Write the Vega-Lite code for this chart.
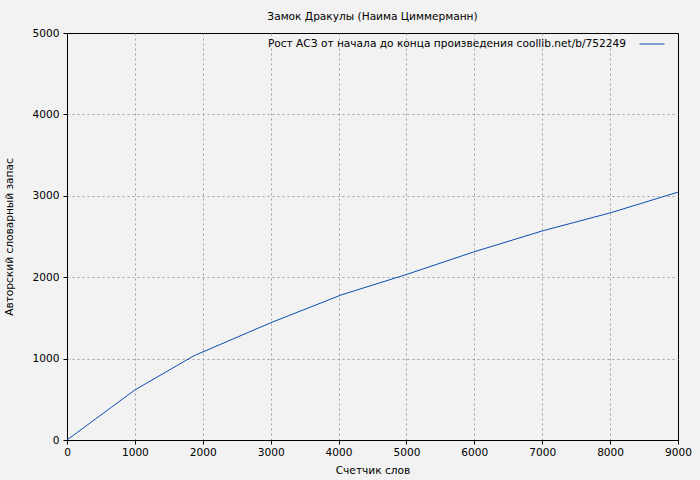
{
  "$schema": "https://vega.github.io/schema/vega-lite/v6.json",
  "width": 611,
  "height": 407,
  "autosize": {"type": "none"},
  "padding": {"left": 67, "top": 33, "right": 22, "bottom": 40},
  "background": "#f2f2f2",
  "title": {
    "text": "Замок Дракулы (Наима Циммерманн)",
    "font": "DejaVu Sans",
    "fontSize": 10.6,
    "fontWeight": "normal",
    "color": "#000000",
    "offset": 5,
    "anchor": "middle"
  },
  "config": {
    "view": {"stroke": "#000000", "strokeWidth": 1, "fill": "#f2f2f2"},
    "font": "DejaVu Sans",
    "axis": {
      "labelFont": "DejaVu Sans",
      "labelFontSize": 10.6,
      "labelColor": "#000000",
      "labelFlush": false,
      "labelOverlap": false,
      "titleFont": "DejaVu Sans",
      "titleFontSize": 10.6,
      "titleFontWeight": "normal",
      "titleColor": "#000000",
      "domainColor": "#000000",
      "tickColor": "#000000",
      "tickSize": 4,
      "gridColor": "#a0a0a0",
      "gridDash": [2, 3],
      "gridWidth": 1
    }
  },
  "data": {
    "values": [
      {"words": 0, "vocab": 0},
      {"words": 1000, "vocab": 615},
      {"words": 1870, "vocab": 1035},
      {"words": 3000, "vocab": 1440},
      {"words": 4050, "vocab": 1785},
      {"words": 5000, "vocab": 2033},
      {"words": 6000, "vocab": 2313},
      {"words": 7000, "vocab": 2568},
      {"words": 8000, "vocab": 2790},
      {"words": 9000, "vocab": 3045}
    ]
  },
  "mark": {"type": "line", "strokeWidth": 1, "clip": true},
  "encoding": {
    "x": {
      "field": "words",
      "type": "quantitative",
      "scale": {"domain": [0, 9000], "nice": false, "zero": false},
      "axis": {
        "values": [0,1000,2000,3000,4000,5000,6000,7000,8000,9000],
        "format": "d",
        "title": "Счетчик слов",
        "titlePadding": 8,
        "labelPadding": 3,
        "gridOpacity": {"condition": {"test": "datum.value === 0 || datum.value === 9000", "value": 0}, "value": 1}
      }
    },
    "y": {
      "field": "vocab",
      "type": "quantitative",
      "scale": {"domain": [0, 5000], "nice": false},
      "axis": {
        "values": [0,1000,2000,3000,4000,5000],
        "format": "d",
        "title": "Авторский словарный запас",
        "titlePadding": 18,
        "labelPadding": 4,
        "gridOpacity": {"condition": {"test": "datum.value === 0 || datum.value === 5000", "value": 0}, "value": 1}
      }
    },
    "color": {
      "datum": "Рост АСЗ от начала до конца произведения coollib.net/b/752249",
      "type": "nominal",
      "scale": {"range": ["#0b4cb4"]},
      "legend": {
        "title": null,
        "orient": "none",
        "legendX": 572,
        "legendY": -2,
        "symbolType": "stroke",
        "symbolSize": 625,
        "symbolStrokeWidth": 1,
        "symbolStrokeColor": "#1a3a80",
        "labelFont": "DejaVu Sans",
        "labelFontSize": 10.6,
        "labelColor": "#000000",
        "labelAlign": "right",
        "labelOffset": -39,
        "labelLimit": 600,
        "padding": 0
      }
    }
  }
}
